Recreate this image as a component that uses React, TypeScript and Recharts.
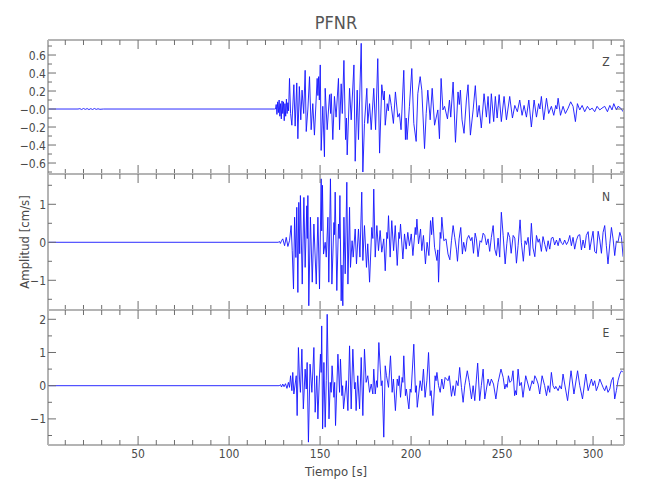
import { LineChart, Line, XAxis, YAxis } from 'recharts';

// time [s], amplitude [cm/s]
const zTrace: [number, number][] = [
  [0.5, 0], [17, 0], [18, 0.004], [19, -0.005], [20, 0.006], [21, -0.004], [22, 0.005], [23, -0.006],
  [24, 0.004], [25, -0.005], [26, 0.006], [27, -0.004], [28, 0.003], [29, -0.003], [31, 0], [125, 0],
  [125.5, 0], [125.9, 0.05], [126.3, -0.06], [126.7, 0.08], [127.1, -0.04], [127.5, 0.1], [127.9, -0.08],
  [128.3, 0.06], [128.7, -0.11], [129.1, 0.09], [129.5, -0.05], [129.9, 0.08], [130.3, -0.13], [130.7, 0.06],
  [131.1, -0.08], [131.5, 0.11], [131.9, -0.05], [132.3, 0.07], [132.7, -0.02], [133.2, 0.34], [133.8, -0.05],
  [134.5, -0.18], [135.6, 0.27], [136.3, -0.19], [137.2, 0.29], [137.8, -0.33], [138.6, 0.25], [139.4, -0.12],
  [140.1, 0.21], [141.0, -0.05], [141.8, 0.43], [142.4, -0.25], [143.3, 0.0], [144.2, 0.36], [145.1, -0.23],
  [146.0, 0.06], [146.9, -0.29], [148.4, 0.34], [148.8, 0.15], [149.2, 0.36], [149.6, 0.1], [150.1, 0.49],
  [150.6, -0.46], [151.5, 0.03], [152.4, -0.53], [152.8, 0.23], [153.9, -0.23], [155.2, 0.16], [155.8, -0.05],
  [156.1, 0.17], [157.0, -0.34], [157.9, 0.14], [158.8, -0.09], [160.1, 0.34], [160.7, -0.23], [161.6, 0.28],
  [162.2, -0.05], [163.1, 0.54], [164.0, -0.34], [164.5, -0.1], [164.9, -0.51], [166.2, 0.23], [167.1, -0.12],
  [168.6, 0.49], [169.3, -0.58], [170.4, 0.21], [171.1, -0.34], [172.6, 0.73], [173.5, -0.7], [174.4, -0.16],
  [175.7, 0.23], [176.2, -0.16], [177.2, 0.06], [178.1, -0.23], [179.5, 0.23], [180.5, -0.23], [181.7, 0.56],
  [182.7, -0.49], [183.9, 0.27], [184.8, 0.1], [185.3, 0.2], [185.8, -0.18], [186.9, 0.06], [187.5, -0.02],
  [188.2, 0.16], [189.1, 0.04], [190.3, -0.16], [191.4, 0.19], [192.7, -0.09], [193.6, -0.05], [194.5, -0.23],
  [196.0, 0.43], [196.9, -0.34], [197.3, -0.1], [197.8, -0.34], [199.1, 0.03], [200.4, 0.45], [201.5, -0.16],
  [202.8, -0.36], [203.7, 0.17], [205.0, 0.36], [205.9, 0.21], [207.4, -0.44], [208.3, -0.05], [209.2, 0.21],
  [210.5, -0.12], [211.6, 0.23], [212.9, -0.18], [214.7, -0.01], [215.6, -0.33], [216.5, 0.34], [217.5, -0.01],
  [218.4, 0.03], [220.0, -0.11], [221.1, 0.1], [221.8, -0.09], [223.1, 0.3], [224.4, -0.37], [225.8, 0.19],
  [226.5, 0.05], [227.1, 0.21], [228.0, -0.12], [229.1, -0.27], [230.4, 0.1], [231.3, 0.27], [232.6, -0.29],
  [234.1, -0.01], [235.3, 0.26], [236.4, -0.09], [237.4, 0.04], [238.6, -0.21], [240.1, 0.17], [241.4, -0.09],
  [242.3, 0.14], [243.2, -0.16], [244.1, 0.17], [245.4, -0.14], [246.3, 0.14], [247.3, -0.1], [248.4, 0.16],
  [249.6, -0.14], [251.1, 0.14], [252.4, -0.12], [254.2, 0.14], [255.7, -0.1], [257.0, 0.04], [258.4, -0.03],
  [259.7, 0.1], [261.0, -0.07], [262.1, 0.04], [263.4, -0.09], [264.7, 0.1], [266.1, -0.2], [267.6, 0.1],
  [268.9, -0.09], [270.1, 0.06], [270.8, 0.0], [271.6, 0.14], [272.9, -0.12], [274.4, 0.12], [275.6, -0.05],
  [277.1, 0.03], [278.4, -0.07], [279.5, 0.04], [280.1, 0.0], [280.8, 0.12], [282.1, -0.07], [283.5, 0.03],
  [284.8, -0.05], [286.3, 0.01], [287.7, 0.08], [289.0, 0.03], [290.3, -0.14], [291.4, 0.06], [292.7, -0.01],
  [294.0, 0.04], [295.4, -0.03], [296.9, 0.03], [298.2, -0.01], [299.5, 0.01], [300.9, -0.03], [302.2, 0.03],
  [303.7, -0.01], [304.9, 0.01], [306.4, 0.03], [307.9, -0.03], [309.2, 0.04], [310.4, -0.01], [311.4, 0.06],
  [312.8, -0.01], [313.7, 0.03], [315.2, 0.01], [316.5, -0.03],
];

const nTrace: [number, number][] = [
  [0.5, 0], [127.0, 0], [127.7, 0.02], [128.2, -0.03], [128.8, 0.04], [129.5, 0.09], [130.5, -0.09],
  [131.4, 0.13], [132.3, -0.11], [133.2, 0.04], [134.1, 0.44], [134.7, -0.22], [135.4, -1.23], [136.0, 0.66],
  [136.7, -0.4], [137.2, 0.92], [137.8, -1.32], [138.3, 1.05], [138.8, -0.3], [139.2, 1.23], [140.2, -1.1],
  [141.1, 1.18], [141.8, -0.66], [142.7, 0.96], [143.0, 0.1], [143.3, 1.23], [143.8, -1.67], [144.7, 0.66],
  [145.7, -1.05], [146.6, 0.48], [147.9, -1.1], [148.8, 0.66], [149.7, -1.23], [150.6, 1.67], [150.9, 0.3],
  [151.3, 1.5], [151.9, -0.31], [152.8, 0.0], [153.4, -0.39], [154.3, 0.66], [154.8, -1.05], [155.7, 1.67],
  [156.5, -1.1], [157.6, 0.52], [157.9, 0.2], [158.3, 1.32], [159.2, -1.27], [160.1, 0.48], [160.5, 0.1],
  [160.9, 1.23], [161.6, -1.54], [162.0, -0.6], [162.5, -1.67], [163.1, 0.66], [163.8, -0.83], [164.7, 1.58],
  [165.3, -1.1], [166.2, 0.92], [166.7, -0.66], [167.6, 0.04], [168.2, -0.39], [169.3, 0.35], [170.0, -0.57],
  [171.1, 0.35], [171.9, -0.39], [172.9, 1.32], [173.5, -0.48], [174.4, 0.44], [175.5, -0.66], [176.2, -0.04],
  [177.2, -1.05], [178.4, 0.39], [179.0, 0.1], [179.5, 1.4], [180.3, -0.39], [181.2, 0.44], [182.1, -0.22],
  [183.0, 0.31], [183.9, -0.26], [185.0, 0.09], [185.8, -0.75], [186.7, 0.26], [187.1, 0.1], [187.6, 0.7],
  [188.5, -0.39], [189.4, 0.57], [190.4, -0.22], [191.3, 0.44], [192.4, -0.61], [193.3, 0.26], [193.7, 0.1],
  [194.2, 0.48], [195.5, -0.44], [196.4, 0.22], [197.3, -0.18], [198.2, 0.26], [199.1, -0.09], [200.1, 0.22],
  [201.0, -0.35], [202.3, 0.39], [202.7, 0.2], [203.2, 0.61], [204.1, -0.04], [205.2, 0.35], [205.9, -0.22],
  [206.8, 0.18], [207.9, -0.57], [208.8, 0.0], [209.8, -0.35], [210.7, 0.57], [211.3, 0.2], [211.9, 0.66],
  [212.9, -0.13], [214.2, -0.48], [214.7, -0.2], [215.1, -1.05], [216.0, 0.26], [216.4, 0.1], [216.9, 0.66],
  [218.0, 0.04], [219.2, 0.09], [220.3, -0.31], [221.3, -0.46], [222.2, 0.04], [223.1, 0.44], [224.0, 0.13],
  [224.9, -0.18], [225.5, -0.5], [226.4, 0.09], [227.3, 0.39], [228.2, -0.31], [228.9, 0.0], [229.9, -0.24],
  [230.8, 0.09], [231.7, 0.18], [232.8, 0.04], [233.5, 0.13], [234.3, -0.29], [235.2, 0.24], [235.9, 0.09],
  [236.8, -0.38], [237.9, 0.04], [238.7, 0.0], [239.6, 0.24], [240.5, 0.18], [241.4, -0.07], [242.3, 0.09],
  [243.2, -0.24], [244.1, 0.13], [245.1, 0.44], [246.0, -0.18], [246.9, -0.35], [247.8, 0.11], [248.7, -0.39],
  [249.6, 0.79], [250.6, 0.18], [251.7, -0.57], [252.6, -0.04], [253.3, 0.26], [254.2, 0.13], [255.0, -0.29],
  [256.1, 0.18], [257.0, 0.11], [257.9, -0.55], [258.8, -0.09], [259.9, 0.59], [260.6, 0.0], [261.7, -0.5],
  [262.6, 0.04], [263.4, -0.06], [264.3, 0.13], [265.2, -0.35], [266.1, 0.5], [267.0, -0.15], [268.0, -0.38],
  [268.9, 0.18], [269.8, 0.0], [270.5, 0.09], [271.6, -0.24], [272.5, 0.15], [273.5, -0.06], [274.4, -0.24],
  [275.3, 0.04], [276.2, -0.18], [277.1, 0.11], [278.0, 0.13], [278.9, -0.07], [279.9, 0.06], [280.8, -0.09],
  [281.7, 0.11], [282.6, -0.02], [283.5, -0.06], [284.4, 0.06], [285.4, -0.06], [286.3, 0.02], [287.2, 0.18],
  [288.1, -0.09], [289.0, 0.13], [289.9, -0.18], [290.8, 0.04], [291.8, 0.18], [292.7, 0.2], [293.6, -0.2],
  [294.5, 0.06], [295.4, -0.15], [296.3, 0.18], [297.3, 0.28], [298.2, -0.2], [299.1, 0.06], [300.0, 0.29],
  [300.9, -0.24], [301.8, -0.29], [302.8, 0.29], [303.7, 0.06], [304.6, -0.29], [305.5, 0.26], [306.4, 0.44],
  [307.3, -0.09], [308.2, -0.57], [309.2, -0.04], [310.1, 0.39], [311.0, 0.09], [311.9, -0.35], [312.8, 0.03],
  [313.7, 0.0], [314.7, 0.26], [315.6, 0.13], [316.5, -0.38],
];

const eTrace: [number, number][] = [
  [0.5, 0], [127.5, 0], [128.3, 0.03], [128.8, -0.04], [129.5, 0.05], [130.2, -0.03], [131.0, 0.06],
  [131.8, -0.08], [132.6, 0.1], [133.2, -0.05], [133.8, 0.3], [134.5, -0.15], [135.0, 0.4], [135.6, -0.25],
  [136.9, 0.3], [137.4, -0.9], [138.1, 1.15], [138.7, 0.2], [139.2, -0.2], [140.0, 1.1], [140.8, -0.7],
  [141.8, 0.5], [142.4, -0.1], [142.9, 0.7], [143.6, -1.7], [144.5, 0.65], [145.5, -0.2], [146.6, 1.15],
  [147.3, -0.8], [148.2, 0.3], [148.8, -1.0], [149.6, 0.2], [150.2, 0.95], [150.6, 0.4], [150.9, 1.8],
  [151.4, -1.3], [152.1, 0.7], [152.8, -1.25], [153.4, 0.15], [153.9, 2.15], [154.9, -1.0], [155.6, 0.1],
  [156.1, -0.2], [156.6, 0.6], [157.6, -0.35], [158.0, 0.1], [158.5, -1.2], [159.8, 0.95], [160.7, -0.2],
  [161.2, 0.8], [162.0, -0.3], [162.4, 0.0], [162.9, -0.7], [164.4, 0.15], [165.3, -0.75], [166.2, 1.2],
  [167.1, -0.7], [168.0, 1.1], [168.9, -0.1], [169.3, 0.1], [169.8, -0.75], [170.7, 0.3], [171.7, -0.7],
  [172.6, 0.85], [173.5, -0.9], [174.4, 1.1], [175.3, 0.1], [176.2, 0.3], [177.2, -0.2], [178.1, 0.05],
  [179.0, -0.25], [179.5, 0.5], [180.3, -0.25], [181.0, 0.15], [181.5, -0.05], [182.3, 1.3], [183.6, 0.0],
  [184.1, 0.15], [185.0, -1.55], [185.8, 0.6], [186.5, 0.3], [187.6, -0.05], [188.7, 0.9], [189.6, -0.2],
  [190.3, 0.2], [191.4, -0.75], [192.4, 0.2], [193.0, 0.0], [193.5, 0.3], [194.2, -0.35], [195.1, 0.25],
  [195.5, 0.1], [196.0, 0.9], [196.9, -0.3], [197.4, -0.1], [198.8, -0.7], [199.5, -0.1], [200.0, -0.2],
  [201.5, 1.25], [202.4, -0.2], [202.9, 0.0], [203.4, -0.65], [205.0, 0.15], [205.9, -0.15], [206.8, 0.5],
  [207.7, -0.35], [208.7, 0.15], [209.6, 1.0], [210.5, -0.3], [211.0, -0.15], [212.0, -0.9], [213.2, 0.3],
  [213.7, 0.15], [214.2, 0.4], [215.1, 0.0], [216.0, -0.2], [216.9, 0.2], [217.8, -0.1], [218.7, 0.25],
  [220.3, 0.15], [221.0, 0.3], [222.2, -0.32], [223.1, 0.0], [224.0, -0.3], [224.9, 0.15], [225.8, 0.0],
  [226.7, 0.55], [227.7, -0.05], [228.6, -0.5], [229.5, 0.0], [230.9, 0.45], [232.0, 0.1], [233.2, -0.4],
  [234.1, 0.0], [235.0, -0.45], [235.9, 0.2], [236.6, 0.68], [237.7, -0.45], [238.6, 0.0], [239.6, 0.5],
  [240.5, -0.4], [242.3, 0.2], [243.2, 0.0], [244.1, 0.2], [245.3, 0.05], [246.6, -0.4], [247.8, 0.1],
  [249.4, 0.5], [250.6, 0.25], [251.5, -0.1], [252.2, 0.05], [252.8, -0.05], [253.5, 0.3], [254.3, 0.1],
  [255.2, 0.15], [256.0, 0.45], [256.9, -0.3], [257.4, -0.15], [257.9, -0.28], [258.8, 0.5], [259.7, 0.0],
  [260.6, 0.1], [261.5, -0.35], [263.0, 0.3], [265.2, -0.15], [266.5, 0.15], [267.3, 0.05], [268.0, 0.3],
  [268.9, 0.2], [269.8, 0.05], [270.7, -0.25], [272.0, 0.3], [273.4, 0.0], [274.4, -0.3], [275.3, 0.0],
  [276.2, -0.2], [277.1, 0.4], [278.0, 0.0], [278.9, -0.1], [279.5, -0.02], [280.8, -0.15], [281.7, 0.0],
  [282.6, -0.1], [283.5, 0.35], [284.4, 0.05], [286.0, -0.45], [287.9, 0.45], [289.5, -0.25], [291.5, 0.45],
  [292.7, 0.0], [294.2, -0.4], [296.0, 0.35], [297.3, -0.15], [299.1, 0.2], [300.0, 0.0], [300.9, 0.15],
  [301.8, -0.15], [302.8, 0.0], [303.7, 0.2], [305.5, -0.05], [306.4, -0.15], [307.3, 0.0], [308.2, -0.2],
  [309.2, -0.1], [310.1, 0.15], [311.0, 0.25], [311.9, -0.4], [312.8, -0.15], [313.7, 0.15], [314.7, 0.35],
  [315.6, 0.45], [316.5, 0.4],
];

const xTicks = [10, 20, 30, 40, 50, 60, 70, 80, 90, 100, 110, 120, 130, 140, 150, 160, 170, 180, 190, 200,
  210, 220, 230, 240, 250, 260, 270, 280, 290, 300, 310];
const xMajor = [50, 100, 150, 200, 250, 300];

const zTicks = [-0.7, -0.6, -0.5, -0.4, -0.3, -0.2, -0.1, 0, 0.1, 0.2, 0.3, 0.4, 0.5, 0.6, 0.7];
const zMajor = [-0.6, -0.4, -0.2, 0, 0.2, 0.4, 0.6];
const nTicks = [-1.5, -1, -0.5, 0, 0.5, 1, 1.5];
const nMajor = [-1, 0, 1];
const eTicks = [-1.5, -1, -0.5, 0, 0.5, 1, 1.5, 2];
const eMajor = [-1, 0, 1, 2];

const X_DOMAIN = [0.5, 317];
const FRAME = '#b4b4b4';
const TICK = '#6e6e6e';
const TEXT = '#4a4a4a';
const FONT = "'Liberation Sans Narrow', 'DejaVu Sans Condensed', 'Roboto Condensed', Roboto, sans-serif";

const near = (list: number[], v: number) => list.some((m) => Math.abs(m - v) < 1e-6);
const minus = (s: string) => s.replace('-', '\u2212');

const makeTick = (side: string, majors: number[], label?: (v: number) => string) => (props: any) => {
  const { x, y, payload } = props;
  const v = payload.value;
  const major = near(majors, v);
  const len = side === 'left' || side === 'right' ? (major ? 8 : 4) : (major ? 9 : 5);
  let l = { x1: x, y1: y, x2: x, y2: y };
  if (side === 'left') l.x2 = x + len;
  if (side === 'right') l.x2 = x - len;
  if (side === 'top') l.y2 = y + len;
  if (side === 'bottom') l.y2 = y - len;
  let txt = null;
  if (label && major) {
    if (side === 'left') {
      txt = (
        <text x={x - 2} y={y + 4.5} textAnchor="end" fontSize={12} fill={TEXT} fontFamily={FONT}>
          {label(v)}
        </text>
      );
    } else {
      txt = (
        <text x={x} y={y + 13} textAnchor="middle" fontSize={12} fill={TEXT} fontFamily={FONT}>
          {label(v)}
        </text>
      );
    }
  }
  return (
    <g>
      <line {...l} stroke={TICK} strokeWidth={1} />
      {txt}
    </g>
  );
};

type PanelProps = {
  trace: [number, number][];
  domain: number[];
  ticks: number[];
  majors: number[];
  fmt: (v: number) => string;
  top: number;
  plotH: number;
  xLabels: boolean;
};

const Panel = ({ trace, domain, ticks, majors, fmt, top, plotH, xLabels }: PanelProps) => {
  const data = trace.map(([t, v]) => ({ t, v }));
  const bottomH = xLabels ? 30 : 1;
  return (
    <div style={{ position: 'absolute', left: 0, top: top - 1 }}>
      <LineChart width={650} height={plotH + 1 + bottomH} margin={{ top: 0, right: 25, bottom: 0, left: 0 }}>
        <XAxis
          dataKey="t"
          type="number"
          domain={X_DOMAIN}
          allowDataOverflow
          ticks={xTicks}
          interval={0}
          height={bottomH}
          tickSize={0}
          tickMargin={0}
          tickLine={false}
          axisLine={{ stroke: FRAME, strokeWidth: 2 }}
          tick={makeTick('bottom', xMajor, xLabels ? (v) => String(v) : undefined)}
        />
        <XAxis
          xAxisId="top"
          orientation="top"
          dataKey="t"
          type="number"
          domain={X_DOMAIN}
          allowDataOverflow
          ticks={xTicks}
          interval={0}
          height={1}
          tickSize={0}
          tickMargin={0}
          tickLine={false}
          axisLine={{ stroke: FRAME, strokeWidth: 2 }}
          tick={makeTick('top', xMajor)}
        />
        <YAxis
          type="number"
          domain={domain}
          allowDataOverflow
          ticks={ticks}
          interval={0}
          width={48}
          tickSize={0}
          tickMargin={0}
          tickLine={false}
          axisLine={{ stroke: FRAME, strokeWidth: 2 }}
          tick={makeTick('left', majors, fmt)}
        />
        <YAxis
          yAxisId="right"
          orientation="right"
          type="number"
          domain={domain}
          allowDataOverflow
          ticks={ticks}
          interval={0}
          width={1}
          tickSize={0}
          tickMargin={0}
          tickLine={false}
          axisLine={{ stroke: FRAME, strokeWidth: 2 }}
          tick={makeTick('right', majors)}
        />
        <Line
          data={data}
          dataKey="v"
          type="linear"
          dot={false}
          stroke="#1414ff"
          strokeWidth={0.9}
          isAnimationActive={false}
        />
      </LineChart>
    </div>
  );
};

const fmtZ = (v: number) => (Math.abs(v) < 1e-6 ? '\u22120.0' : minus(v.toFixed(1)));
const fmtInt = (v: number) => minus(String(v));

export default function App() {
  return (
    <div style={{ position: 'absolute', left: 0, top: 0, width: 650, height: 500, background: '#fff' }}>
      <Panel trace={zTrace} domain={[-0.722, 0.767]} ticks={zTicks} majors={zMajor} fmt={fmtZ} top={40} plotH={134} xLabels={false} />
      <Panel trace={nTrace} domain={[-1.782, 1.797]} ticks={nTicks} majors={nMajor} fmt={fmtInt} top={174} plotH={136} xLabels={false} />
      <Panel trace={eTrace} domain={[-1.786, 2.28]} ticks={eTicks} majors={eMajor} fmt={fmtInt} top={310} plotH={135} xLabels />
      <svg width={650} height={500} style={{ position: 'absolute', left: 0, top: 0, pointerEvents: 'none' }}>
        <text x={336} y={29} textAnchor="middle" fontSize={18} fill="#555" fontFamily={FONT}>PFNR</text>
        <text x={606} y={66} textAnchor="middle" fontSize={12} fill={TEXT} fontFamily={FONT}>Z</text>
        <text x={606} y={201} textAnchor="middle" fontSize={12} fill={TEXT} fontFamily={FONT}>N</text>
        <text x={606} y={337} textAnchor="middle" fontSize={12} fill={TEXT} fontFamily={FONT}>E</text>
        <text x={336} y={476} textAnchor="middle" fontSize={13} fill={TEXT} fontFamily={FONT}>Tiempo  [s]</text>
        <text
          x={0}
          y={0}
          transform="translate(29 242) rotate(-90)"
          textAnchor="middle"
          fontSize={13}
          fill={TEXT}
          fontFamily={FONT}
        >
          Amplitud  [cm/s]
        </text>
      </svg>
    </div>
  );
}
